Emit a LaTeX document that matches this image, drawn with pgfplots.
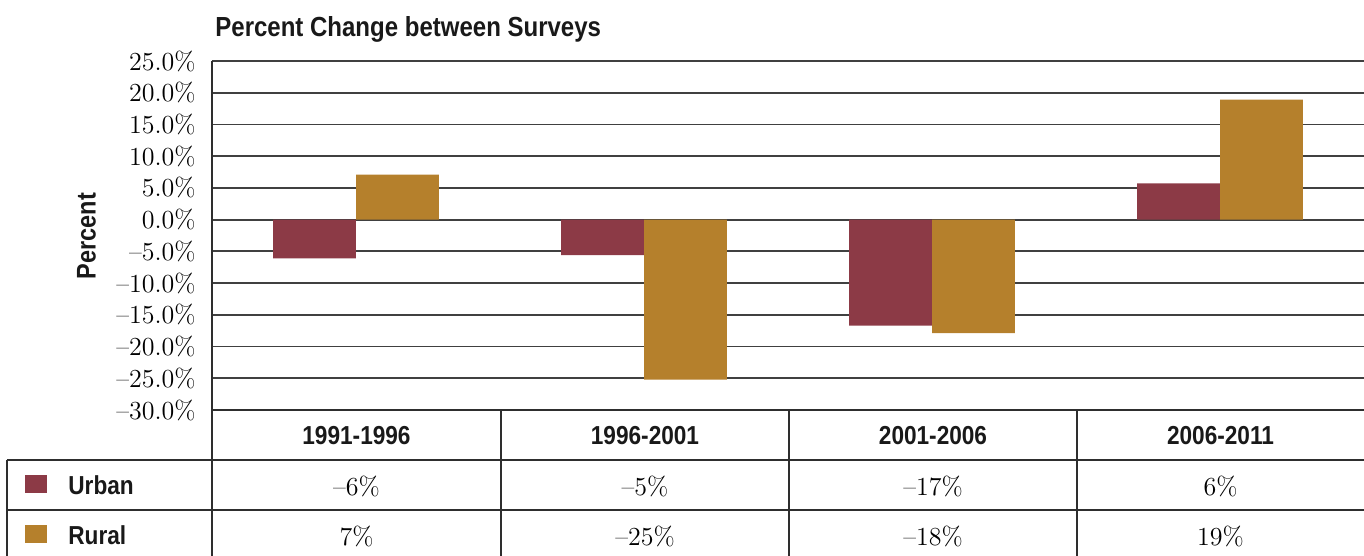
\documentclass[border=0pt]{standalone}
\usepackage{fontspec}
\usepackage{pgfplots}
\pgfplotsset{compat=1.18}
\newfontfamily\cond[FakeStretch=0.87]{Liberation Sans}
\definecolor{urbanc}{HTML}{8C3A46}
\definecolor{ruralc}{HTML}{B5802C}
\definecolor{linec}{HTML}{2E2E2E}
\begin{document}
\begin{tikzpicture}
\begin{axis}[
  at={(0,0)}, anchor=south west,
  scale only axis, width=576pt, height=174.5pt,
  xmin=-0.5, xmax=3.5, ymin=-30, ymax=25,
  axis line style={draw=none},
  xtick=\empty,
  ytick={-30,-25,-20,-15,-10,-5,0,5,10,15,20,25},
  yticklabels={–30.0\%,–25.0\%,–20.0\%,–15.0\%,–10.0\%,–5.0\%,0.0\%,5.0\%,10.0\%,15.0\%,20.0\%,25.0\%},
  major tick length=0pt,
  yticklabel style={font=\fontsize{13}{15}\selectfont, inner sep=0pt, anchor=east, xshift=-8pt},
  ymajorgrids,
  grid style={draw=black!75, line width=0.95pt},
  clip=false,
]
\addplot[ybar, bar width=0.287, bar shift=0pt, fill=urbanc, draw=none]
  coordinates {(-0.144,-6.1) (0.856,-5.6) (1.856,-16.7) (2.856,5.7)};
\addplot[ybar, bar width=0.287, bar shift=0pt, fill=ruralc, draw=none]
  coordinates {(0.144,7.1) (1.144,-25.2) (2.144,-17.9) (3.144,18.9)};
\end{axis}
% px -> pt : X=(x-212)/2, Y=(410-y)/2
\draw[linec, line width=1pt] (0,174.5pt) -- (0,-73pt);
\draw[linec, line width=1.3pt] (0,0) -- (576pt,0);
\draw[linec, line width=0.9pt] (-102.5pt,-25pt) -- (576pt,-25pt);
\draw[linec, line width=0.9pt] (-102.5pt,-50pt) -- (576pt,-50pt);
\draw[linec, line width=0.9pt] (-102.5pt,-25pt) -- (-102.5pt,-73pt);
\foreach \xx in {144.5pt,288.5pt,432.5pt} {\draw[linec, line width=0.7pt] (\xx,0) -- (\xx,-73pt);}
% title and label
\node[anchor=base west, inner sep=0pt, font=\cond\bfseries\fontsize{13.8}{16}\selectfont, text=black!90] at (1.5pt,186.5pt) {Percent Change between Surveys};
\node[rotate=90, inner sep=0pt, font=\cond\bfseries\fontsize{13.5}{15}\selectfont, text=black!90] at (-62.75pt,87pt) {Percent};
% header
\foreach \cx/\lab in {72.25pt/1991-1996, 216.5pt/1996-2001, 360.5pt/2001-2006, 504.25pt/2006-2011}
  {\node[anchor=base, inner sep=0pt, font=\cond\bfseries\fontsize{13}{15}\selectfont, text=black!90] at (\cx,-17.5pt) {\lab};}
% legend rows
\fill[urbanc] (-93.5pt,-32.5pt) rectangle (-82.5pt,-41.5pt);
\fill[ruralc] (-93.5pt,-57.5pt) rectangle (-82.5pt,-66.5pt);
\node[anchor=base west, inner sep=0pt, font=\cond\bfseries\fontsize{13}{15}\selectfont, text=black!90] at (-72pt,-42pt) {Urban};
\node[anchor=base west, inner sep=0pt, font=\cond\bfseries\fontsize{13}{15}\selectfont, text=black!90] at (-72pt,-67pt) {Rural};
\foreach \cx/\u/\r in {72.25pt/–6\%/7\%, 216.5pt/–5\%/–25\%, 360.5pt/–17\%/–18\%, 504.25pt/6\%/19\%}
  {\node[anchor=base, inner sep=0pt, font=\fontsize{13}{15}\selectfont] at (\cx,-42.5pt) {\u};
   \node[anchor=base, inner sep=0pt, font=\fontsize{13}{15}\selectfont] at (\cx,-67.5pt) {\r};}
\pgfresetboundingbox
\path[use as bounding box] (-106pt,-73pt) rectangle (576pt,205pt);
\end{tikzpicture}
\end{document}
